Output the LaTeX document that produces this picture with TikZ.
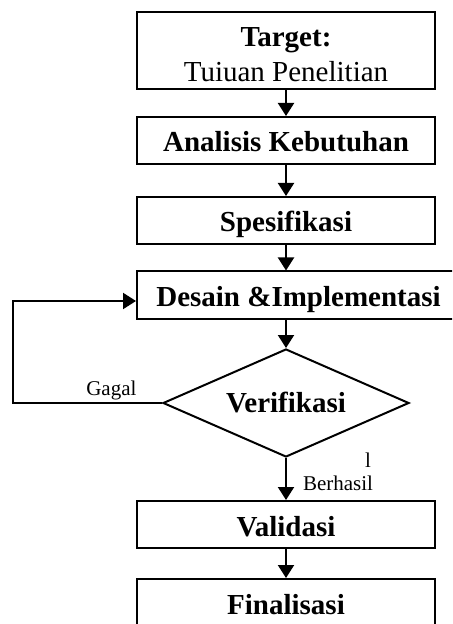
\documentclass[tikz,border=0pt]{standalone}
\usepackage{fontspec}
\setmainfont{Liberation Serif}
\usetikzlibrary{shapes.geometric,arrows.meta}

\begin{document}
\begin{tikzpicture}[x=0.5pt, y=-0.5pt, line width=1pt,
  box/.style={draw, minimum width=149pt, inner sep=0pt, font=\fontsize{14.5}{16}\selectfont},
  stage/.style={box, minimum height=23.5pt, font=\fontsize{14.5}{16}\selectfont\bfseries, text height=11.5pt, text depth=0pt},
  arr/.style={-{Triangle[length=6.5pt,width=8pt]}},
  lbl/.style={font=\fontsize{10.5}{12}\selectfont, inner sep=1pt}]
  \useasboundingbox (0,0) rectangle (452,624);
  \clip (0,0) rectangle (452,624);

  \node[box, minimum height=38.5pt, align=center] (B1) at (286,50.5) {\rule{0pt}{13.6pt}{\bfseries Target:}\\[1.5pt]Tuiuan Penelitian};
  \node[stage] (B2) at (286,140.5) {Analisis Kebutuhan};
  \node[stage] (B3) at (286,220.5) {Spesifikasi};
  \node[stage, minimum width=161.5pt] (B4) at (298.5,295) {Desain \&Implementasi};
  \node[draw, diamond, aspect=2.28, minimum width=123pt, minimum height=54pt, inner sep=0pt,
        font=\fontsize{14.5}{16}\selectfont\bfseries] (V) at (286,403) {Verifikasi};
  \node[stage] (B5) at (286,524.5) {Validasi};
  \node[stage] (B6) at (286,602.5) {Finalisasi};
  \coordinate (C) at (13,403);
  \node[lbl] (L) at (368,460) {l};

  \draw[arr] (B1) -- (B2);
  \draw[arr] (B2) -- (B3);
  \draw[arr] (B3) -- (B3 |- B4.north);
  \draw[arr] (V.north |- B4.south) -- (V);
  \draw[arr] (V) -- (B5) node[lbl, pos=0.6, right=7pt] {Berhasil};
  \draw[arr] (B5) -- (B6);
  \draw[arr] (V.west) -- (C) node[lbl, pos=0.34, above] {Gagal} |- ([yshift=-3pt]B4.west);
\end{tikzpicture}
\end{document}
